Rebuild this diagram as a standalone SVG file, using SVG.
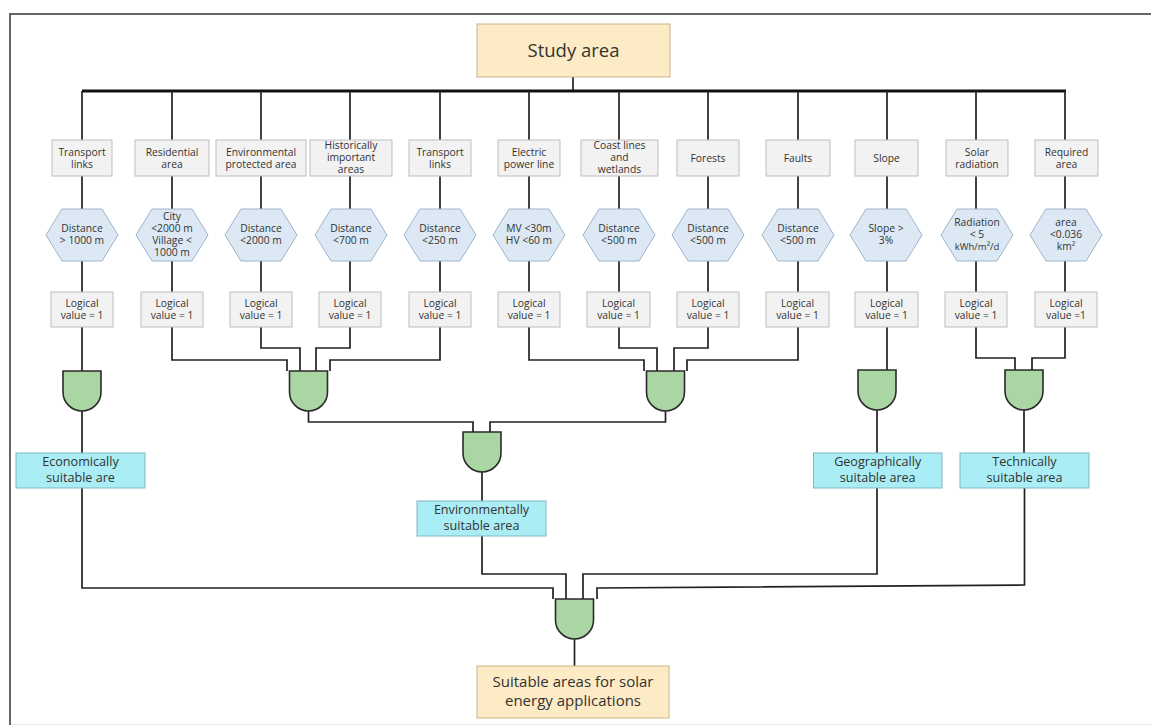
<svg xmlns="http://www.w3.org/2000/svg" width="1151" height="727" viewBox="0 0 1151 727">
<style>
text{font-family:"Open Sans","Liberation Sans",sans-serif;fill:#333;text-anchor:middle}
.s{font-size:10.3px}
.m{font-size:12.6px}
.big{font-size:18.5px}
.fin{font-size:15px}
.peach{fill:#fdebc5;stroke:#c8b489;stroke-width:1}
.grey{fill:#f2f2f2;stroke:#bdbdbd;stroke-width:1}
.hex{fill:#dce9f5;stroke:#9db4ca;stroke-width:1}
.cyan{fill:#aaedf4;stroke:#80b8c4;stroke-width:1}
.gate{fill:#a9d6a2;stroke:#2a2a2a;stroke-width:1.6}
.c{fill:none;stroke:#222;stroke-width:1.7}
</style>
<defs>
<polygon id="hx" points="-36,0 -20,-26 20,-26 36,0 20,26 -20,26"/>
<path id="gt" d="M-19,0 H19 V21 A19,19 0 0 1 -19,21 Z"/>
</defs>
<rect width="1151" height="727" fill="#fff"/>
<path d="M10,725 V14 H1151" fill="none" stroke="#666" stroke-width="2"/>
<line x1="11" y1="724.5" x2="1151" y2="724.5" stroke="#ececec" stroke-width="1"/>

<g id="connectors">
<path class="c" d="M573,77 V91"/>
<path d="M82,91 H1066" fill="none" stroke="#111" stroke-width="3"/>
<path class="c" d="M82,91 V140 M172,91 V140 M261,91 V140 M350,91 V140 M440,91 V140 M529,91 V140 M619,91 V140 M708,91 V140 M798,91 V140 M887,91 V140 M976,91 V140 M1065,91 V140"/>
<path class="c" d="M82,176 V209 M172,176 V209 M261,176 V209 M350,176 V209 M440,176 V209 M529,176 V209 M619,176 V209 M708,176 V209 M798,176 V209 M887,176 V209 M976,176 V209 M1065,176 V209"/>
<path class="c" d="M82,261 V292 M172,261 V292 M261,261 V292 M350,261 V292 M440,261 V292 M529,261 V292 M619,261 V292 M708,261 V292 M798,261 V292 M887,261 V292 M976,261 V292 M1065,261 V292"/>
<path class="c" d="M82,327 V371"/>
<path class="c" d="M82,411 V453"/>
<path class="c" d="M82,488 V588 H553 V599"/>
<path class="c" d="M172,327 V360 H287 V371"/>
<path class="c" d="M261,327 V348 H300 V371"/>
<path class="c" d="M350,327 V348 H316 V371"/>
<path class="c" d="M440,327 V360 H330 V371"/>
<path class="c" d="M308.5,411 V422 H473 V432"/>
<path class="c" d="M529,327 V360 H644 V371"/>
<path class="c" d="M619,327 V348 H657 V371"/>
<path class="c" d="M708,327 V348 H674 V371"/>
<path class="c" d="M798,327 V360 H687 V371"/>
<path class="c" d="M665.5,411 V422 H490 V432"/>
<path class="c" d="M482,472 V501"/>
<path class="c" d="M482,536 V574 H566 V599"/>
<path class="c" d="M887,327 V370"/>
<path class="c" d="M877,410 V453"/>
<path class="c" d="M877,488 V574 H583 V599"/>
<path class="c" d="M976,327 V358 H1015 V370"/>
<path class="c" d="M1065,327 V358 H1032 V370"/>
<path class="c" d="M1024,410 V453"/>
<path class="c" d="M1024.5,488 V585 L597,588 V599"/>
<path class="c" d="M574.5,639 V666"/>
</g>

<g id="study-area">
<rect class="peach" x="477" y="24" width="193" height="53"/>
<text class="big" x="573.5" y="57">Study area</text>
</g>

<g id="f1"><rect class="grey" x="52" y="140" width="60" height="36"/><text class="s" x="82" y="156">Transport</text><text class="s" x="82" y="168">links</text></g>
<g id="f2"><rect class="grey" x="135" y="140" width="74" height="36"/><text class="s" x="172" y="156">Residential</text><text class="s" x="172" y="168">area</text></g>
<g id="f3"><rect class="grey" x="216" y="140" width="90" height="36"/><text class="s" x="261" y="156">Environmental</text><text class="s" x="261" y="168">protected area</text></g>
<g id="f4"><rect class="grey" x="310" y="140" width="82" height="36"/><text class="s" x="351" y="149">Historically</text><text class="s" x="351" y="161">important</text><text class="s" x="351" y="173">areas</text></g>
<g id="f5"><rect class="grey" x="409" y="140" width="62" height="36"/><text class="s" x="440" y="156">Transport</text><text class="s" x="440" y="168">links</text></g>
<g id="f6"><rect class="grey" x="498" y="140" width="62" height="36"/><text class="s" x="529" y="156">Electric</text><text class="s" x="529" y="168">power line</text></g>
<g id="f7"><rect class="grey" x="581" y="140" width="77" height="36"/><text class="s" x="619.5" y="149">Coast lines</text><text class="s" x="619.5" y="161">and</text><text class="s" x="619.5" y="173">wetlands</text></g>
<g id="f8"><rect class="grey" x="677" y="140" width="62" height="36"/><text class="s" x="708" y="162">Forests</text></g>
<g id="f9"><rect class="grey" x="766" y="140" width="64" height="36"/><text class="s" x="798" y="162">Faults</text></g>
<g id="f10"><rect class="grey" x="855" y="140" width="63" height="36"/><text class="s" x="886.5" y="162">Slope</text></g>
<g id="f11"><rect class="grey" x="946" y="140" width="62" height="36"/><text class="s" x="977" y="156">Solar</text><text class="s" x="977" y="168">radiation</text></g>
<g id="f12"><rect class="grey" x="1035" y="140" width="63" height="36"/><text class="s" x="1066.5" y="156">Required</text><text class="s" x="1066.5" y="168">area</text></g>

<g id="h1"><use href="#hx" class="hex" x="82" y="235"/><text class="s" x="82" y="232">Distance</text><text class="s" x="82" y="244">&gt; 1000 m</text></g>
<g id="h2"><use href="#hx" class="hex" x="172" y="235"/><text class="s" x="172" y="220">City</text><text class="s" x="172" y="232">&lt;2000 m</text><text class="s" x="172" y="244">Village &lt;</text><text class="s" x="172" y="256">1000 m</text></g>
<g id="h3"><use href="#hx" class="hex" x="261" y="235"/><text class="s" x="261" y="232">Distance</text><text class="s" x="261" y="244">&lt;2000 m</text></g>
<g id="h4"><use href="#hx" class="hex" x="351" y="235"/><text class="s" x="351" y="232">Distance</text><text class="s" x="351" y="244">&lt;700 m</text></g>
<g id="h5"><use href="#hx" class="hex" x="440" y="235"/><text class="s" x="440" y="232">Distance</text><text class="s" x="440" y="244">&lt;250 m</text></g>
<g id="h6"><use href="#hx" class="hex" x="529" y="235"/><text class="s" x="529" y="232">MV &lt;30m</text><text class="s" x="529" y="244">HV &lt;60 m</text></g>
<g id="h7"><use href="#hx" class="hex" x="619" y="235"/><text class="s" x="619" y="232">Distance</text><text class="s" x="619" y="244">&lt;500 m</text></g>
<g id="h8"><use href="#hx" class="hex" x="708" y="235"/><text class="s" x="708" y="232">Distance</text><text class="s" x="708" y="244">&lt;500 m</text></g>
<g id="h9"><use href="#hx" class="hex" x="798" y="235"/><text class="s" x="798" y="232">Distance</text><text class="s" x="798" y="244">&lt;500 m</text></g>
<g id="h10"><use href="#hx" class="hex" x="886" y="235"/><text class="s" x="886" y="232">Slope &gt;</text><text class="s" x="886" y="244">3%</text></g>
<g id="h11"><use href="#hx" class="hex" x="977" y="235"/><text class="s" x="977" y="226">Radiation</text><text class="s" x="977" y="238">&lt; 5</text><text class="s" x="977" y="250" style="font-size:9.5px">kWh/m²/d</text></g>
<g id="h12"><use href="#hx" class="hex" x="1066" y="235"/><text class="s" x="1066" y="226">area</text><text class="s" x="1066" y="238">&lt;0.036</text><text class="s" x="1066" y="250">km²</text></g>

<g id="l1"><rect class="grey" x="51" y="292" width="62" height="35"/><text class="s" x="82" y="307">Logical</text><text class="s" x="82" y="319">value =  1</text></g>
<g id="l2"><rect class="grey" x="141" y="292" width="62" height="35"/><text class="s" x="172" y="307">Logical</text><text class="s" x="172" y="319">value =  1</text></g>
<g id="l3"><rect class="grey" x="230" y="292" width="62" height="35"/><text class="s" x="261" y="307">Logical</text><text class="s" x="261" y="319">value =  1</text></g>
<g id="l4"><rect class="grey" x="319" y="292" width="62" height="35"/><text class="s" x="350" y="307">Logical</text><text class="s" x="350" y="319">value = 1</text></g>
<g id="l5"><rect class="grey" x="409" y="292" width="62" height="35"/><text class="s" x="440" y="307">Logical</text><text class="s" x="440" y="319">value = 1</text></g>
<g id="l6"><rect class="grey" x="498" y="292" width="62" height="35"/><text class="s" x="529" y="307">Logical</text><text class="s" x="529" y="319">value = 1</text></g>
<g id="l7"><rect class="grey" x="587" y="292" width="63" height="35"/><text class="s" x="618.5" y="307">Logical</text><text class="s" x="618.5" y="319">value = 1</text></g>
<g id="l8"><rect class="grey" x="677" y="292" width="62" height="35"/><text class="s" x="708" y="307">Logical</text><text class="s" x="708" y="319">value = 1</text></g>
<g id="l9"><rect class="grey" x="766" y="292" width="63" height="35"/><text class="s" x="797.5" y="307">Logical</text><text class="s" x="797.5" y="319">value = 1</text></g>
<g id="l10"><rect class="grey" x="855" y="292" width="63" height="35"/><text class="s" x="886.5" y="307">Logical</text><text class="s" x="886.5" y="319">value = 1</text></g>
<g id="l11"><rect class="grey" x="945" y="292" width="62" height="35"/><text class="s" x="976" y="307">Logical</text><text class="s" x="976" y="319">value = 1</text></g>
<g id="l12"><rect class="grey" x="1035" y="292" width="62" height="35"/><text class="s" x="1066" y="307">Logical</text><text class="s" x="1066" y="319">value =1</text></g>

<g id="and-econ"><use href="#gt" class="gate" x="82" y="371"/></g>
<g id="and-env1"><use href="#gt" class="gate" x="308.5" y="371"/></g>
<g id="and-env2"><use href="#gt" class="gate" x="665.5" y="371"/></g>
<g id="and-geo"><use href="#gt" class="gate" x="877" y="370"/></g>
<g id="and-tech"><use href="#gt" class="gate" x="1024" y="370"/></g>
<g id="and-env"><use href="#gt" class="gate" x="482" y="432"/></g>
<g id="and-final"><use href="#gt" class="gate" x="574.5" y="599"/></g>

<g id="econ"><rect class="cyan" x="16" y="453" width="129" height="35"/><text class="m" x="80.5" y="466">Economically</text><text class="m" x="80.5" y="482">suitable are</text></g>
<g id="env"><rect class="cyan" x="417" y="501" width="129" height="35"/><text class="m" x="481.5" y="514">Environmentally</text><text class="m" x="481.5" y="530">suitable area</text></g>
<g id="geo"><rect class="cyan" x="813.5" y="453" width="128.5" height="35"/><text class="m" x="877.7" y="466">Geographically</text><text class="m" x="877.7" y="482">suitable area</text></g>
<g id="tech"><rect class="cyan" x="960" y="453" width="129" height="35"/><text class="m" x="1024.5" y="466">Technically</text><text class="m" x="1024.5" y="482">suitable area</text></g>

<g id="final"><rect class="peach" x="477" y="666" width="192" height="52"/><text class="fin" x="573" y="687">Suitable areas for solar</text><text class="fin" x="573" y="706">energy applications</text></g>
</svg>
